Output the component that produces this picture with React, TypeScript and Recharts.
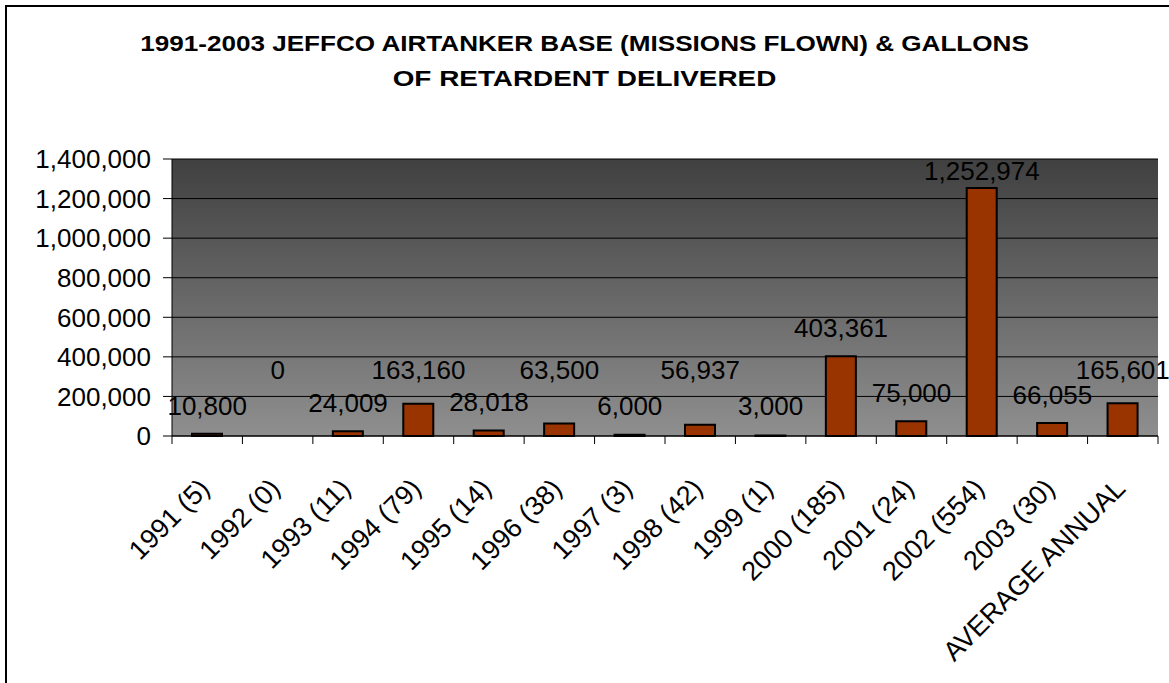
import React from "react";
import {
  Bar,
  ComposedChart,
  CartesianGrid,
  LabelList,
  Line,
  XAxis,
  YAxis,
} from "recharts";

const CATEGORIES = [
  "1991 (5)",
  "1992 (0)",
  "1993 (11)",
  "1994 (79)",
  "1995 (14)",
  "1996 (38)",
  "1997 (3)",
  "1998 (42)",
  "1999 (1)",
  "2000 (185)",
  "2001 (24)",
  "2002 (554)",
  "2003 (30)",
  "AVERAGE ANNUAL",
];

const GALLONS = [
  10800, 0, 24009, 163160, 28018, 63500, 6000, 56937, 3000, 403361, 75000,
  1252974, 66055, 165601,
];

const Y_TICKS = [0, 200000, 400000, 600000, 800000, 1000000, 1200000, 1400000];

const TITLE_LINES = [
  "1991-2003 JEFFCO AIRTANKER BASE (MISSIONS FLOWN) & GALLONS",
  "OF RETARDENT DELIVERED",
];

const data = CATEGORIES.map((category, i) => ({
  category,
  gallons: GALLONS[i],
}));

const W = 1169;
const H = 683;
const PLOT_LEFT = 172;
const PLOT_RIGHT = 1158;
const PLOT_TOP = 159;
const PLOT_BOTTOM = 436;
const X_AXIS_H = 200;
const BAND = (PLOT_RIGHT - PLOT_LEFT) / CATEGORIES.length;
const FONT = "Arial, 'Liberation Sans', sans-serif";

const fmt = (v: number) => v.toLocaleString("en-US");

function CategoryTick(props: any) {
  const { x, y, payload, index } = props;
  const half = BAND / 2;
  const px = x + 4;
  const py = y + 54;
  return (
    <g>
      <line x1={x - half} x2={x - half} y1={y} y2={y + 8} stroke="#000" />
      {index === CATEGORIES.length - 1 && (
        <line x1={x + half} x2={x + half} y1={y} y2={y + 8} stroke="#000" />
      )}
      <text
        x={px}
        y={py}
        transform={`rotate(-45, ${px}, ${py})`}
        textAnchor="end"
        fontSize={27}
        fontFamily={FONT}
        fill="#000"
      >
        {payload.value}
      </text>
    </g>
  );
}

// Excel-style staggered value labels: alternate rows, lifted above tall bars
function ValueLabel(props: any) {
  const { x, y, value } = props;
  const i = Math.round((x - PLOT_LEFT - BAND / 2) / BAND);
  const row = PLOT_BOTTOM - (i % 2 === 0 ? 30 : 66);
  const cy = Math.max(PLOT_TOP + 12, Math.min(y - 28, row));
  return (
    <text
      x={x}
      y={cy + 9}
      textAnchor="middle"
      fontSize={26}
      fontFamily={FONT}
      fill="#000"
    >
      {fmt(value)}
    </text>
  );
}

export default function App() {
  return (
    <div
      style={{
        position: "absolute",
        left: 0,
        top: 0,
        width: W,
        height: H,
        overflow: "hidden",
        background: "#fff",
      }}
    >
      <div
        style={{
          position: "absolute",
          left: 5,
          top: 5,
          width: W + 20,
          height: H + 20,
          borderTop: "2px solid #000",
          borderLeft: "2px solid #000",
        }}
      />
      <svg
        width={W}
        height={100}
        style={{ position: "absolute", left: 0, top: 0 }}
      >
        {TITLE_LINES.map((line, i) => (
          <g
            key={i}
            transform={`translate(${W / 2}, 0) scale(${i === 0 ? 1.16 : 1.24}, 1)`}
          >
            <text
              x={0}
              y={51 + i * 35}
              textAnchor="middle"
              fontSize={22.5}
              fontWeight="bold"
              fontFamily={FONT}
              fill="#000"
            >
              {line}
            </text>
          </g>
        ))}
      </svg>
      <div style={{ position: "absolute", left: 0, top: 0 }}>
        <ComposedChart
          width={W}
          height={H}
          data={data}
          margin={{
            top: PLOT_TOP,
            right: W - PLOT_RIGHT,
            bottom: H - PLOT_BOTTOM - X_AXIS_H,
            left: 0,
          }}
          barSize={30}
        >
          <defs>
            <linearGradient id="plotBg" x1="0" y1="0" x2="0" y2="1">
              <stop offset="0%" stopColor="#404040" />
              <stop offset="100%" stopColor="#8f8f8f" />
            </linearGradient>
          </defs>
          <CartesianGrid
            vertical={false}
            stroke="#000"
            fill="url(#plotBg)"
            fillOpacity={1}
          />
          <XAxis
            dataKey="category"
            interval={0}
            height={X_AXIS_H}
            tickSize={0}
            tickMargin={0}
            tickLine={false}
            axisLine={{ stroke: "#000" }}
            tick={<CategoryTick />}
          />
          <XAxis
            xAxisId="top"
            orientation="top"
            dataKey="category"
            height={0}
            tick={false}
            tickLine={false}
            axisLine={{ stroke: "#b4b4b4" }}
          />
          <YAxis
            domain={[0, 1400000]}
            ticks={Y_TICKS}
            width={PLOT_LEFT}
            tickSize={9}
            tickMargin={12}
            tickFormatter={fmt}
            tickLine={{ stroke: "#000" }}
            axisLine={{ stroke: "#000" }}
            tick={{ fontSize: 26, fontFamily: FONT, fill: "#000" }}
            interval={0}
          />
          <YAxis
            yAxisId="right"
            orientation="right"
            width={0}
            tick={false}
            tickLine={false}
            axisLine={{ stroke: "#b4b4b4" }}
          />
          <Bar
            dataKey="gallons"
            fill="#993300"
            stroke="#000"
            strokeWidth={2}
            isAnimationActive={false}
          />
          <Line
            dataKey="gallons"
            stroke="none"
            dot={false}
            activeDot={false}
            legendType="none"
            isAnimationActive={false}
          >
            <LabelList dataKey="gallons" content={<ValueLabel />} />
          </Line>
        </ComposedChart>
      </div>
    </div>
  );
}
